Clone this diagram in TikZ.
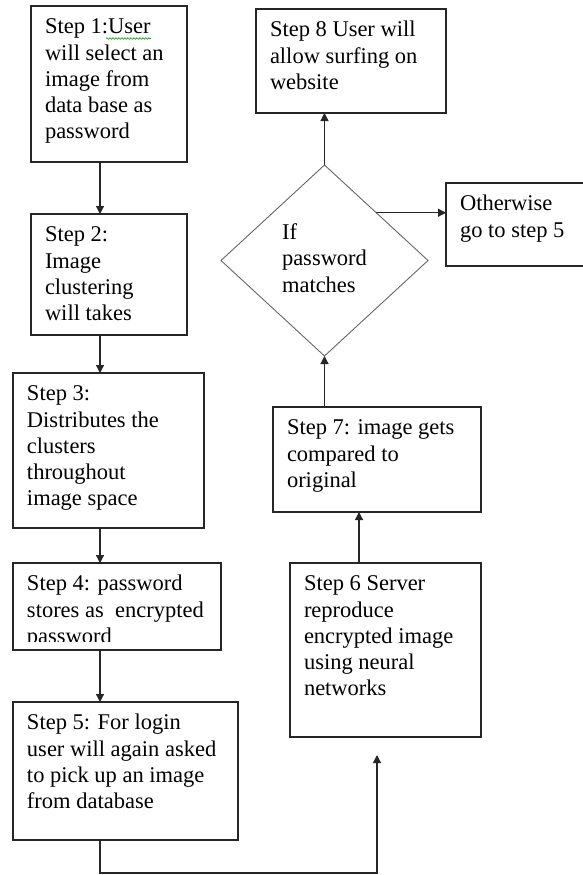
\documentclass[tikz,border=0pt]{standalone}
\usepackage{fontspec}
\setmainfont{Liberation Serif}
\usetikzlibrary{shapes.geometric}
\usetikzlibrary{arrows.meta}
\usetikzlibrary{decorations.pathmorphing}

\newcommand{\stepfont}{\fontsize{22.5}{26.25}\selectfont}
\newcommand{\steptext}[3]{\parbox[t][#2][t]{#1}{\begin{tabular}[t]{@{}l@{}}#3\end{tabular}}}

\begin{document}
\begin{tikzpicture}[x=1pt,y=-1pt,>={Triangle[width=8pt,length=8pt]},
    stepbox/.style={draw=black!85,line width=1.2pt,outer sep=0pt,anchor=north west,
                    inner xsep=14pt,inner ysep=9.5pt,font=\stepfont},
    decision/.style={diamond,draw=black!60,line width=0.9pt,outer sep=0pt,inner sep=0pt,font=\stepfont},
    flow/.style={->,draw=black!85,line width=1.2pt}]

  \useasboundingbox[fill=white] (0,0) rectangle (582,875);

  % left column
  \node[stepbox] (s1) at (31,6)   {\steptext{128pt}{137pt}{Step 1:User\\will select an\\image from\\data base as\\password}};
  \node[stepbox] (s2) at (31,214) {\steptext{128pt}{102pt}{Step 2:\\Image\\clustering\\will takes}};
  \node[stepbox] (s3) at (13,373) {\steptext{163pt}{136pt}{Step 3:\\Distributes the\\clusters\\throughout\\image space}};
  \node[stepbox] (s4) at (13,563) {\steptext{180pt}{68pt}{Step 4: password\\stores as\ \ encrypted\\password}};
  \node[stepbox] (s5) at (13,702) {\steptext{197pt}{119pt}{Step 5: For login\\user will again asked\\to pick up an image\\from database}};
  \fill[white] ([xshift=0.7pt,yshift=0.7pt]s4.south west) rectangle ([xshift=-0.7pt,yshift=8pt]s4.south east);
  \draw[green!60!black,line width=0.6pt,decorate,decoration={snake,amplitude=0.8pt,segment length=3pt}]
    (106,38.5) -- (151,38.5);

  % right column
  \node[stepbox] (s8) at (256,9)   {\steptext{162pt}{85pt}{Step 8 User will\\allow surfing on\\website}};
  \node[stepbox] (ow) at (446,183) {\steptext{122pt}{64pt}{Otherwise\\go to step 5}};
  \node[decision,minimum width=207pt,minimum height=191pt] (d) at (324.5,260.5)
    {\begin{tabular}{@{}l@{}}If\\password\\matches\end{tabular}};
  \node[stepbox] (s7) at (273,407) {\steptext{180pt}{86pt}{Step 7: image gets\\compared to\\original}};
  \node[stepbox] (s6) at (290,563) {\steptext{163pt}{155pt}{Step 6 Server\\reproduce\\encrypted image\\using neural\\networks}};

  \coordinate (lane) at (100,0);
  \coordinate (up6) at (359,0);
  \coordinate (turn) at (377,873);
  \coordinate (gap) at (377,755);

  \draw[flow] (s1.south -| lane) -- (s2.north -| lane);
  \draw[flow] (s2.south -| lane) -- (s3.north -| lane);
  \draw[flow] (s3.south -| lane) -- (s4.north -| lane);
  \draw[flow] (s4.south -| lane) -- (s5.north -| lane);
  \draw[flow] (s5.south -| lane) |- (turn) -- (gap);
  \draw[flow] (s6.north -| up6) -- (s7.south -| up6);
  \draw[flow] (d.south |- s7.north) -- (d.south);
  \draw[flow] (d.north) -- (d.north |- s8.south);
  \draw[flow] (d.north east) -- (d.north east -| ow.west);
\end{tikzpicture}
\end{document}
